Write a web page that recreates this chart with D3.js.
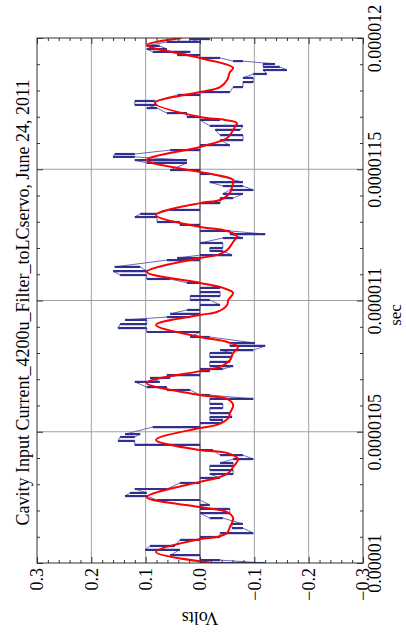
<!DOCTYPE html>
<html><head><meta charset="utf-8">
<script src="https://cdn.jsdelivr.net/npm/d3@7"></script>
<style>body{margin:0;background:#fff}svg{display:block}text{font-family:"Liberation Serif","Times New Roman",serif;fill:#000}</style>
</head><body><svg id="c" width="406" height="639"></svg>
<script>
// ---- data (time in microseconds, values in volts) ----
const titleText = "Cavity Input Current_4200u_Filter_toLCservo, June 24, 2011";
const timeTicks = [10, 10.5, 11, 11.5, 12];
const timeLabels = ["0.00001", "0.0000105", "0.000011", "0.0000115", "0.000012"];
const voltTicks = [0.3, 0.2, 0.1, 0.0, -0.1, -0.2, -0.3];
const voltLabels = ["0.3", "0.2", "0.1", "0.0", "\u22120.1", "\u22120.2", "\u22120.3"];

const redT = [10.000,10.042,10.091,10.099,10.114,10.137,10.171,10.194,10.213,10.251,10.309,10.324,10.343,10.366,10.396,10.419,10.430,10.469,10.514,10.526,10.552,10.571,10.602,10.625,10.640,10.686,10.731,10.747,10.773,10.800,10.823,10.842,10.861,10.907,10.945,10.956,10.983,11.002,11.029,11.048,11.067,11.109,11.162,11.173,11.192,11.223,11.246,11.269,11.280,11.326,11.371,11.383,11.410,11.432,11.459,11.470,11.490,11.535,11.585,11.619,11.642,11.661,11.676,11.688,11.699,11.752,11.794,11.813,11.840,11.870,11.886,11.924,11.973,12.000];
const redV = [-0.024,0.081,0,-0.031,-0.050,-0.055,-0.061,-0.050,0,0.098,0,-0.031,-0.052,-0.061,-0.070,-0.050,0,0.081,0,-0.031,-0.052,-0.055,-0.061,-0.050,0,0.098,0,-0.037,-0.055,-0.061,-0.070,-0.050,0,0.081,0,-0.031,-0.050,-0.052,-0.061,-0.042,0,0.098,0,-0.031,-0.050,-0.061,-0.068,-0.042,0,0.081,0,-0.037,-0.055,-0.059,-0.061,-0.050,0,0.098,0,-0.050,-0.059,-0.064,-0.068,-0.046,0,0.083,0,-0.037,-0.050,-0.055,-0.061,0,0.098,0.033];

const blueT = [10.000,10.011,10.030,10.050,10.065,10.088,10.099,10.114,10.133,10.149,10.171,10.190,10.206,10.221,10.240,10.255,10.267,10.282,10.305,10.324,10.339,10.354,10.370,10.381,10.396,10.411,10.430,10.450,10.465,10.480,10.491,10.518,10.533,10.545,10.556,10.571,10.590,10.606,10.625,10.640,10.659,10.670,10.690,10.705,10.716,10.731,10.739,10.750,10.766,10.785,10.800,10.811,10.827,10.838,10.861,10.880,10.895,10.910,10.926,10.937,10.949,10.964,10.983,11.002,11.017,11.032,11.048,11.067,11.082,11.097,11.112,11.128,11.154,11.162,11.173,11.189,11.200,11.219,11.238,11.253,11.265,11.288,11.299,11.318,11.330,11.345,11.371,11.390,11.406,11.421,11.436,11.451,11.482,11.497,11.524,11.535,11.547,11.558,11.573,11.592,11.611,11.630,11.650,11.665,11.688,11.699,11.714,11.733,11.745,11.760,11.783,11.794,11.813,11.832,11.848,11.863,11.878,11.890,11.901,11.912,11.924,11.935,11.947,11.958,11.970,11.985,11.996];
const blueHi = [0,0,0.055,0.101,0.092,0.037,0,-0.037,-0.059,-0.059,-0.018,0,0,0,0.079,0.138,0.129,0.120,0.037,0,-0.018,-0.018,-0.018,-0.037,-0.061,-0.037,0,0.120,0.151,0.147,0.138,0.087,0,-0.018,-0.018,-0.018,-0.018,-0.018,-0.018,0,0.061,0.098,0.120,0.092,0.061,0,0,-0.018,-0.018,-0.018,-0.018,-0.037,-0.055,-0.055,0.018,0.098,0.151,0.147,0.138,0.061,0.055,0.024,0,0.018,0.018,0,0,0.024,0.098,0.147,0.160,0.157,0.061,0.042,0,-0.018,-0.018,0,-0.042,-0.055,0,0.037,0.079,0.120,0.110,0.055,0,-0.037,-0.042,-0.055,-0.042,-0.018,0,0.055,0.098,0.120,0.160,0.157,0.055,0,-0.037,-0.037,-0.028,-0.018,0,0.024,0.061,0.098,0.120,0.120,0.041,0,-0.061,-0.079,-0.079,-0.098,-0.116,-0.116,-0.116,-0.061,0,0.042,0.087,0.098,0.098,0.061,0.018];
const blueLo = [-0.120,-0.037,0,0.037,0.046,0,-0.037,-0.098,-0.079,-0.079,-0.042,-0.055,-0.055,-0.018,0,0.098,0.098,0.061,0,-0.037,-0.061,-0.061,-0.061,-0.061,-0.098,-0.079,-0.024,0,0.120,0.120,0.110,0,-0.037,-0.042,-0.059,-0.055,-0.042,-0.042,-0.098,-0.018,0.018,0.061,0.074,0.055,0,-0.018,-0.042,-0.061,-0.055,-0.059,-0.059,-0.098,-0.120,-0.101,-0.018,0,0.098,0.098,0.098,0.018,0,0,-0.037,-0.018,-0.037,-0.037,-0.037,0,0.055,0.098,0.098,0.110,0,0,-0.059,-0.042,-0.042,-0.042,-0.079,-0.120,-0.055,0,0.037,0.079,0.079,0,-0.037,-0.061,-0.079,-0.098,-0.079,-0.079,-0.018,0,0.024,0.024,0.120,0.120,0,-0.055,-0.079,-0.079,-0.074,-0.079,-0.037,0,0.024,0.079,0.079,0.083,0,-0.055,-0.079,-0.098,-0.098,-0.123,-0.160,-0.147,-0.138,-0.079,-0.037,0,0.018,0.061,0.074,0,-0.018];

// ---- layout ----
const svg = d3.select("#c");
const L = 37, R = 363, T = 38, B = 563;
const v = d3.scaleLinear().domain([-0.3, 0.3]).range([R, L]);
const t = d3.scaleLinear().domain([10, 12]).range([B, T]);
const fs = 18;

svg.append("defs").append("clipPath").attr("id", "clip")
  .append("rect").attr("x", L).attr("y", T).attr("width", R - L).attr("height", B - T);

// grid
const gridV = voltTicks.filter(d => Math.abs(d) > 1e-9 && Math.abs(d) < 0.29);
svg.append("g").selectAll("line").data(gridV).join("line")
  .attr("x1", d => v(d)).attr("x2", d => v(d)).attr("y1", T).attr("y2", B)
  .attr("stroke", "#a0a0a0").attr("stroke-width", 1);
const gridT = timeTicks.filter(d => d > 10 && d < 12);
svg.append("g").selectAll("line").data(gridT).join("line")
  .attr("y1", d => t(d)).attr("y2", d => t(d)).attr("x1", L).attr("x2", R)
  .attr("stroke", "#a0a0a0").attr("stroke-width", 1);
svg.append("line").attr("x1", v(0)).attr("x2", v(0)).attr("y1", T).attr("y2", B)
  .attr("stroke", "#222").attr("stroke-width", 1);

// blue data
const data = svg.append("g").attr("clip-path", "url(#clip)");
const pts = [];
let prev = null;
blueT.forEach((tt, i) => {
  let a = blueHi[i], b = blueLo[i];
  if (prev !== null && Math.abs(prev - b) < Math.abs(prev - a)) { const s = a; a = b; b = s; }
  pts.push([tt, a], [tt, b]);
  prev = b;
});
data.append("path")
  .attr("d", d3.line().x(d => v(d[1])).y(d => t(d[0]))(pts))
  .attr("fill", "none").attr("stroke", "#6a6ab4").attr("stroke-width", 1);
data.append("g").selectAll("line").data(blueT.map((tt, i) => [tt, blueHi[i], blueLo[i]])).join("line")
  .attr("x1", d => v(d[1])).attr("x2", d => v(d[2]))
  .attr("y1", d => t(d[0])).attr("y2", d => t(d[0]))
  .attr("stroke", "#30308f").attr("stroke-width", 2.2);

// red fit
const red = redT.map((tt, i) => [tt, redV[i]]);
data.append("path")
  .attr("d", d3.line().x(d => v(d[1])).y(d => t(d[0])).curve(d3.curveCatmullRom)(red))
  .attr("fill", "none").attr("stroke", "#ff0000").attr("stroke-width", 2);

// axes (ticks inward)
const vMinor = d3.range(-15, 16).map(k => k * 0.02).filter(d => !voltTicks.some(m => Math.abs(m - d) < 1e-9));
const tMinor = d3.range(0, 21).map(k => 10 + k * 0.1).filter(d => !timeTicks.some(m => Math.abs(m - d) < 1e-9));
function styleAxis(g) { g.select(".domain").remove(); g.selectAll("line").attr("stroke", "#333"); }

const bot = svg.append("g").attr("transform", `translate(0,${B})`)
  .call(d3.axisBottom(v).tickValues(voltTicks).tickSizeInner(-6).tickSizeOuter(0).tickFormat((d, i) => voltLabels[i]));
svg.append("g").attr("transform", `translate(0,${B})`)
  .call(d3.axisBottom(v).tickValues(vMinor).tickSizeInner(-3).tickSizeOuter(0).tickFormat("")).call(styleAxis);
bot.call(styleAxis);
bot.selectAll("text").attr("transform", "rotate(-90)").attr("x", -5).attr("y", 0).attr("dy", "0.33em")
  .attr("text-anchor", "end").style("font-size", fs + "px").style("font-family", "Liberation Serif");

svg.append("g").attr("transform", `translate(0,${T})`)
  .call(d3.axisTop(v).tickValues(voltTicks).tickSizeInner(-6).tickSizeOuter(0).tickFormat("")).call(styleAxis);
svg.append("g").attr("transform", `translate(0,${T})`)
  .call(d3.axisTop(v).tickValues(vMinor).tickSizeInner(-3).tickSizeOuter(0).tickFormat("")).call(styleAxis);

const rgt = svg.append("g").attr("transform", `translate(${R},0)`)
  .call(d3.axisRight(t).tickValues(timeTicks).tickSizeInner(-6).tickSizeOuter(0).tickFormat((d, i) => timeLabels[i]));
svg.append("g").attr("transform", `translate(${R},0)`)
  .call(d3.axisRight(t).tickValues(tMinor).tickSizeInner(-3).tickSizeOuter(0).tickFormat("")).call(styleAxis);
rgt.call(styleAxis);
rgt.selectAll("text").attr("transform", "rotate(-90)").attr("x", 0).attr("y", 18).attr("dy", 0)
  .attr("text-anchor", "middle").style("font-size", fs + "px").style("font-family", "Liberation Serif");

svg.append("g").attr("transform", `translate(${L},0)`)
  .call(d3.axisLeft(t).tickValues(timeTicks).tickSizeInner(-6).tickSizeOuter(0).tickFormat("")).call(styleAxis);
svg.append("g").attr("transform", `translate(${L},0)`)
  .call(d3.axisLeft(t).tickValues(tMinor).tickSizeInner(-3).tickSizeOuter(0).tickFormat("")).call(styleAxis);

// frame
svg.append("rect").attr("x", L).attr("y", T).attr("width", R - L).attr("height", B - T)
  .attr("fill", "none").attr("stroke", "#333").attr("stroke-width", 1);

// labels
svg.append("text").attr("transform", `translate(29,${(T + B) / 2 + 2}) rotate(-90)`)
  .attr("text-anchor", "middle").style("font-size", fs + "px").text(titleText);
svg.append("text").attr("transform", `translate(401,315) rotate(-90)`)
  .attr("text-anchor", "middle").style("font-size", "17px").text("sec");
svg.append("text").attr("transform", `translate(200,612) rotate(180)`)
  .attr("text-anchor", "middle").style("font-size", fs + "px").text("Volts");
</script></body></html>
